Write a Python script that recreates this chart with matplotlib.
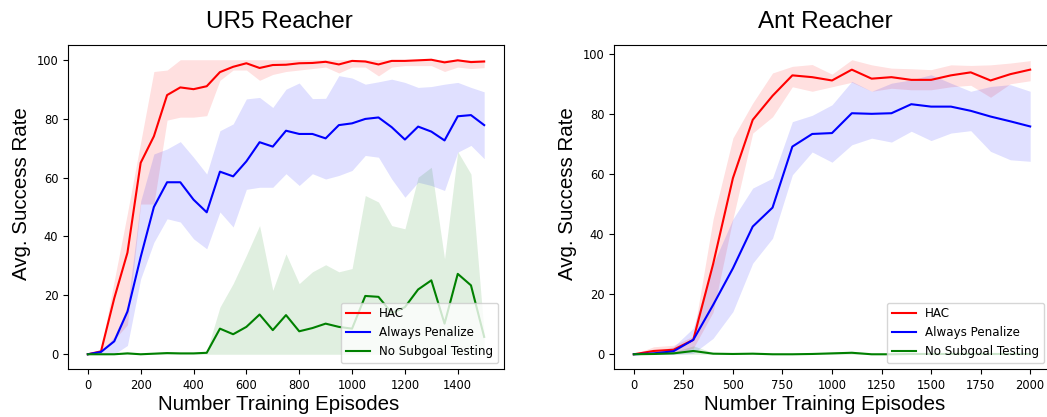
import matplotlib
matplotlib.use("Agg")
import matplotlib.pyplot as plt

# UR5 Reacher (episodes every 50)
ur5_x = list(range(0, 1501, 50))
ur5_hac = [0, 1, 19, 34.5, 65, 74, 88, 90.6, 90, 91, 95.8, 97.6, 98.8, 97.2, 98.2, 98.3,
           98.8, 98.9, 99.3, 98.4, 99.6, 99.4, 98.4, 99.6, 99.6, 99.8, 100, 99.1, 99.8, 99.2, 99.4]
ur5_hac_hi = [0, 1.5, 25, 48, 72, 96, 96.5, 100, 100, 100, 100, 100, 100, 100, 100, 100,
              100, 100, 100, 100, 100, 100, 100, 100, 100, 100, 100, 100, 100, 100, 100]
ur5_hac_lo = [0, 0.5, 5, 10, 51, 51, 79.5, 80.5, 80.5, 81, 93, 96.5, 96.5, 93, 95, 96,
              96.5, 97, 97.5, 95.5, 97.5, 97.5, 94.5, 97.5, 98, 98, 98, 96, 97.5, 97, 97.3]
ur5_pen = [0, 0.8, 4.4, 14.5, 33, 50, 58.4, 58.4, 52.5, 48.2, 62, 60.4, 65.5, 72, 70.5, 75.9,
           74.8, 74.8, 73.3, 77.8, 78.4, 79.9, 80.4, 77.1, 72.9, 77.3, 75.6, 72.6, 80.8, 81.2, 77.8]
ur5_pen_hi = [0, 0.8, 6, 16, 52, 68, 69.7, 72.2, 66.9, 61.2, 75.9, 78.2, 86.7, 87.2, 83.8, 90,
              92.1, 86.8, 86.9, 94.6, 93.8, 91.7, 92.5, 93.4, 92.3, 90.6, 90.9, 91.7, 92.3, 90.6, 89.1]
ur5_pen_lo = [0, 0, 0, 3, 25.6, 38, 46, 44.9, 39.2, 35.8, 48.3, 43.2, 56, 56.7, 56.7, 61.3,
              57.3, 61.3, 59.5, 60.7, 62.4, 67.5, 66.9, 59.5, 53.3, 58.4, 57.3, 55.6, 68.6, 70.9, 66.4]
ur5_nst = [0, 0, 0, 0.3, 0, 0.2, 0.4, 0.3, 0.3, 0.5, 8.7, 6.8, 9.3, 13.5, 8.2, 13.3,
           7.8, 8.9, 10.4, 9.3, 8.7, 19.8, 19.5, 14, 16, 22, 25.1, 10.4, 27.3, 23.4, 5.9]
ur5_nst_hi = [0, 0.3, 0.3, 0.8, 0.3, 0.6, 0.8, 0.6, 0.5, 1, 16, 24, 33.6, 43.7, 21.7, 34.1,
              24, 28, 30.4, 28, 29.1, 53.9, 51.7, 43.7, 42.6, 60.1, 63.5, 32.4, 68.8, 61.2, 7]
ur5_nst_lo = [0] * 31

# Ant Reacher (episodes every 100)
ant_x = list(range(0, 2001, 100))
ant_hac = [0, 1.1, 1.5, 4.8, 30, 58.6, 78, 86, 92.8, 92.2, 91.1, 94.7, 91.7, 92.2, 91.3,
           91.3, 92.8, 93.8, 91.1, 93.2, 94.7]
ant_hac_hi = [0, 2.5, 3, 6, 45, 72, 83.6, 93.6, 95.8, 96.4, 93.2, 98, 96.3, 95.2, 95,
              94.7, 96.3, 96.1, 96.3, 96.9, 97.7]
ant_hac_lo = [0, 0.3, 0.5, 2, 14, 45, 73.6, 79, 89, 87.5, 89, 90.5, 87.5, 88.5, 88,
              88, 89, 89.5, 85.5, 90, 91]
ant_pen = [0, 0.3, 1, 4.8, 16.4, 28.6, 42.5, 48.8, 69.1, 73.3, 73.6, 80.2, 80, 80.2, 83.2,
           82.4, 82.4, 81, 79.1, 77.5, 75.8]
ant_pen_hi = [0, 0.8, 2.5, 8.7, 30, 45, 55.3, 58.6, 77.4, 79.5, 83, 90.8, 87.5, 90.2, 91.3,
              93, 90.2, 87.5, 89.1, 89.7, 87.5]
ant_pen_lo = [0, 0, 0, 0.3, 5.3, 14.2, 30.3, 38.6, 59.7, 67.3, 63.9, 69.7, 71.9, 70.6, 74.2,
              71.1, 73.6, 74.4, 67.5, 64.7, 64.2]
ant_nst = [0, 0.1, 0.3, 1.1, 0.2, 0.1, 0.2, 0, 0, 0.1, 0.3, 0.5, 0, 0, 0.1,
           0.1, 0.1, 0.1, 0.1, 0.1, 0.1]
ant_nst_hi = [0, 0.3, 0.8, 2.8, 0.6, 0.4, 0.5, 0.3, 0.3, 0.4, 0.7, 1, 0.3, 0.3, 0.3,
              0.3, 0.3, 0.3, 0.3, 0.3, 0.3]
ant_nst_lo = [0] * 21

labels = ["HAC", "Always Penalize", "No Subgoal Testing"]
colors = ["r", "b", "g"]
big_font = "Liberation Sans"


def draw_panel(ax, x, series, title, xticks):
    for (mean, lo, hi), lab, c in zip(series, labels, colors):
        ax.fill_between(x, lo, hi, color=c, alpha=0.12, linewidth=0)
        ax.plot(x, mean, color=c, linewidth=1.5, label=lab)
    ax.set_xticks(xticks)
    ax.set_yticks([0, 20, 40, 60, 80, 100])
    ax.tick_params(labelsize=8.3)
    ax.set_title(title, fontsize=17.5, family=big_font, pad=12, x=0.484)
    ax.set_xlabel("Number Training Episodes", fontsize=14.8, family=big_font)
    ax.set_ylabel("Avg. Success Rate", fontsize=14.8, family=big_font)
    ax.legend(loc="lower right", fontsize=8.6)


fig = plt.figure(figsize=(10.47, 4.17), dpi=100)
ax1 = fig.add_axes([68 / 1047, 48 / 417, 436 / 1047, 324 / 417])
ax2 = fig.add_axes([614 / 1047, 48 / 417, 436 / 1047, 324 / 417])

draw_panel(ax1, ur5_x,
           [(ur5_hac, ur5_hac_lo, ur5_hac_hi), (ur5_pen, ur5_pen_lo, ur5_pen_hi),
            (ur5_nst, ur5_nst_lo, ur5_nst_hi)],
           "UR5 Reacher", range(0, 1401, 200))
draw_panel(ax2, ant_x,
           [(ant_hac, ant_hac_lo, ant_hac_hi), (ant_pen, ant_pen_lo, ant_pen_hi),
            (ant_nst, ant_nst_lo, ant_nst_hi)],
           "Ant Reacher", range(0, 2001, 250))

for ax in (ax1, ax2):
    ax.xaxis.set_label_coords(0.484, -0.08)
    ax.yaxis.set_label_coords(-0.085, 0.54)

fig.savefig("out.png", dpi=100)
